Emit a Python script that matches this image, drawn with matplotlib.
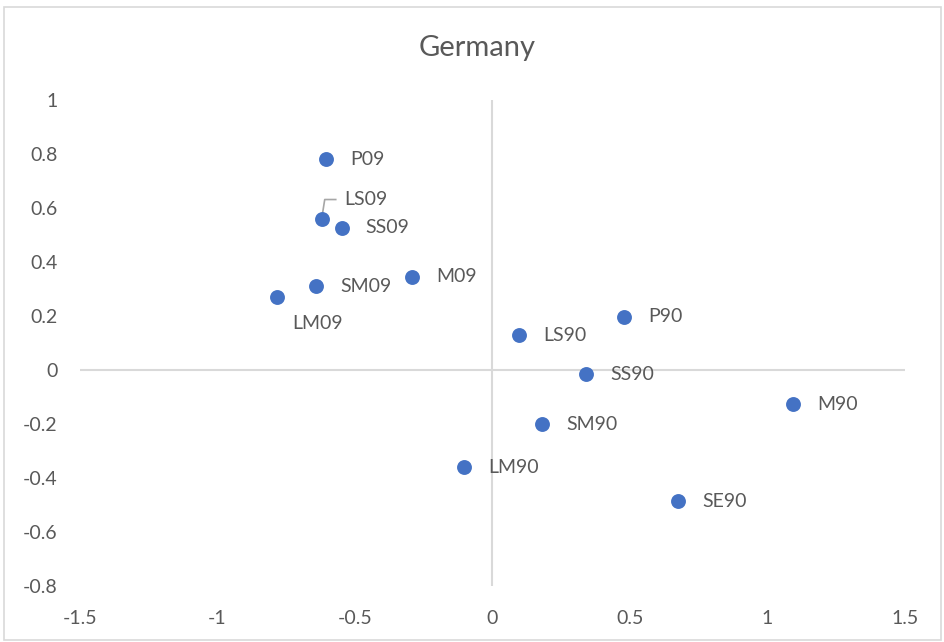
import matplotlib.pyplot as plt
import matplotlib.patches as mpatches

# data
labels = ['P09', 'LS09', 'SS09', 'M09', 'SM09', 'LM09',
          'P90', 'LS90', 'SS90', 'M90', 'SM90', 'LM90', 'SE90']
x_vals = [-0.604, -0.621, -0.548, -0.292, -0.641, -0.784,
          0.480, 0.096, 0.341, 1.092, 0.181, -0.102, 0.674]
y_vals = [0.780, 0.561, 0.527, 0.345, 0.311, 0.271,
          0.197, 0.129, -0.015, -0.126, -0.200, -0.360, -0.487]
x_ticks = [-1.5, -1, -0.5, 0, 0.5, 1, 1.5]
y_ticks = [-0.8, -0.6, -0.4, -0.2, 0, 0.2, 0.4, 0.6, 0.8, 1]

_TEXT = '#595959'
_GRID = '#D9D9D9'
_BLUE = '#4472C4'

plt.rcParams['font.family'] = ['Lato', 'DejaVu Sans']

W, H = 945, 642
fig = plt.figure(figsize=(W / 100, H / 100), dpi=100)
fig.patch.set_facecolor('white')

# chart border
fig.add_artist(mpatches.Rectangle((4 / W, 2 / H), (W - 8) / W, (H - 9) / H,
                                  transform=fig.transFigure, fill=False,
                                  edgecolor=_GRID, linewidth=1.2))

ax = fig.add_axes([80 / W, (H - 586) / H, 825 / W, 486 / H])
ax.set_xlim(-1.5, 1.5)
ax.set_ylim(-0.8, 1)
for s in ax.spines.values():
    s.set_visible(False)
ax.axhline(0, color=_GRID, linewidth=1.5, zorder=1)
ax.axvline(0, color=_GRID, linewidth=1.5, zorder=1)

ax.set_xticks(x_ticks)
ax.set_xticklabels([f'{v:g}' for v in x_ticks])
ax.set_yticks(y_ticks)
ax.set_yticklabels([f'{v:g}' for v in y_ticks])
ax.tick_params(length=0, labelsize=14, colors=_TEXT)
ax.tick_params(axis='x', pad=17)
ax.tick_params(axis='y', pad=16)

ax.scatter(x_vals, y_vals, s=115, color=_BLUE, zorder=3, linewidths=0)

# label offsets in pixels (default: right of the marker)
offsets = {'LS09': (23, 19), 'LM09': (15, -27)}
for lab, xv, yv in zip(labels, x_vals, y_vals):
    dx, dy = offsets.get(lab, (24, 0))
    ax.annotate(lab, (xv, yv), xytext=(dx, dy), textcoords='offset pixels',
                ha='left', va='center', fontsize=14, color=_TEXT)

# leader line for LS09
i = labels.index('LS09')
px, py = ax.transData.transform((x_vals[i], y_vals[i]))
inv = ax.transData.inverted()
pts = [inv.transform((px, py)), inv.transform((px + 3, py + 19)),
       inv.transform((px + 14, py + 19))]
ax.plot([p[0] for p in pts], [p[1] for p in pts], color='#A6A6A6',
        linewidth=1.2, zorder=2)

fig.text(0.5 + 5 / W, 1 - 48 / H, 'Germany', ha='center', va='center',
         fontsize=21, color=_TEXT)

fig.savefig('out.png', dpi=100)
